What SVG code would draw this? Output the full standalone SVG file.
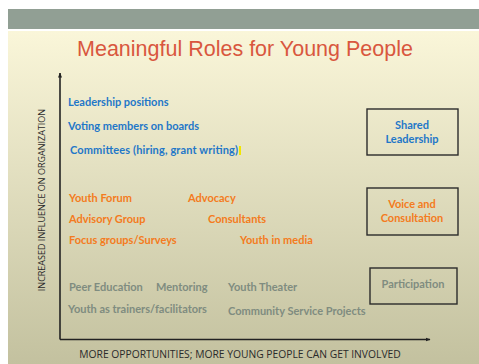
<svg xmlns="http://www.w3.org/2000/svg" width="479" height="364" viewBox="0 0 479 364">
<defs>
<linearGradient id="bg" x1="0" y1="0" x2="0" y2="1">
<stop offset="0" stop-color="#faf6d9"/>
<stop offset="1" stop-color="#c3c19f"/>
</linearGradient>
<marker id="arr" viewBox="0 0 10 10" refX="9" refY="5" markerWidth="5" markerHeight="5" orient="auto" markerUnits="userSpaceOnUse">
<path d="M0,1 L10,5 L0,9 z" fill="#222"/>
</marker>
<style>
.it{font-family:Lato,"Open Sans","Liberation Sans",sans-serif;font-weight:bold;font-size:11px}
.blue{fill:#1f77c8}
.orange{fill:#f47b20}
.gray{fill:#7f8c80}
.box{fill:none;stroke:#2b2b2b;stroke-width:1.4}
.ax{font-family:"Open Sans","Liberation Sans",sans-serif;fill:#2a2a2a}
.lbl{font-family:Lato,"Open Sans","Liberation Sans",sans-serif;font-weight:bold;font-size:11px;text-anchor:middle}
</style>
</defs>
<rect x="0" y="0" width="479" height="364" fill="#ffffff"/>
<rect x="8" y="9" width="471" height="20" fill="#919f94"/>
<rect x="8" y="31" width="471" height="333" fill="url(#bg)"/>
<text x="245" y="56" text-anchor="middle" font-family="Liberation Sans,Arial,sans-serif" font-size="21.5" fill="#d9573e">Meaningful Roles for Young People</text>

<g id="connectors">
<line x1="60" y1="339.5" x2="60" y2="73" stroke="#222" stroke-width="1.6" marker-end="url(#arr)"/>
<line x1="60" y1="339.5" x2="430" y2="339.5" stroke="#222" stroke-width="1.6" marker-end="url(#arr)"/>
</g>

<text class="ax" font-size="9" transform="translate(45,200) rotate(-90)" text-anchor="middle">INCREASED INFLUENCE ON ORGANIZATION</text>
<text class="ax" font-size="10.3" x="240" y="358" text-anchor="middle">MORE OPPORTUNITIES; MORE YOUNG PEOPLE CAN GET INVOLVED</text>

<g id="shared-items" class="it blue">
<text x="68" y="106">Leadership positions</text>
<text x="68" y="130">Voting members on boards</text>
<text x="70" y="154" textLength="168" lengthAdjust="spacing">Committees (hiring, grant writing)</text>
</g>
<rect x="239" y="146" width="2" height="9" fill="#f2e600"/>

<g id="voice-items" class="it orange">
<text x="69" y="202">Youth Forum</text>
<text x="188" y="202">Advocacy</text>
<text x="69" y="223">Advisory Group</text>
<text x="208" y="223">Consultants</text>
<text x="69" y="244">Focus groups/Surveys</text>
<text x="240" y="244">Youth in media</text>
</g>

<g id="participation-items" class="it gray">
<text x="69" y="291">Peer Education</text>
<text x="156" y="291">Mentoring</text>
<text x="228" y="291">Youth Theater</text>
<text x="68" y="313">Youth as trainers/facilitators</text>
<text x="228" y="315">Community Service Projects</text>
</g>

<g id="shared-leadership">
<rect class="box" x="367" y="109" width="91" height="46"/>
<text class="lbl blue" x="412" y="129">Shared</text>
<text class="lbl blue" x="412" y="143">Leadership</text>
</g>
<g id="voice-consultation">
<rect class="box" x="367" y="188" width="91" height="47"/>
<text class="lbl orange" x="412" y="208">Voice and</text>
<text class="lbl orange" x="412" y="222">Consultation</text>
</g>
<g id="participation">
<rect class="box" x="370" y="268" width="87" height="36"/>
<text class="lbl gray" x="413" y="288">Participation</text>
</g>
</svg>
